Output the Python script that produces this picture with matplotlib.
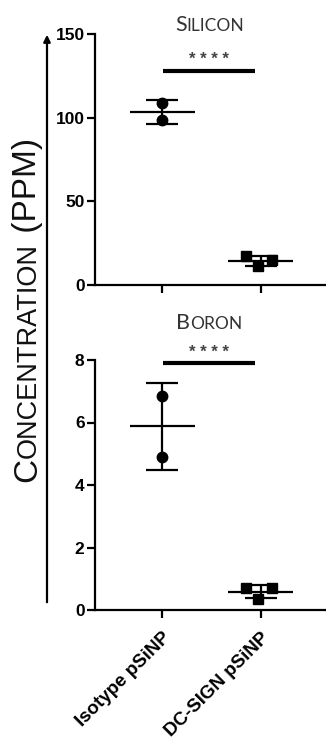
import numpy as np
import matplotlib
matplotlib.use("Agg")
import matplotlib.pyplot as plt
from matplotlib.font_manager import FontProperties
from matplotlib.patches import FancyArrowPatch
from matplotlib.transforms import ScaledTranslation

# dados
groups = ["Isotype pSiNP", "DC-SIGN pSiNP"]
silicon_isotype = [108.5, 98.5]
silicon_dcsign = [17.3, 11.2, 14.8]
boron_isotype = [6.86, 4.90]
boron_dcsign = [0.72, 0.35, 0.70]
silicon_ticks = [0, 50, 100, 150]
boron_ticks = [0, 2, 4, 6, 8]
stars = "* * * *"

JITTER = [-0.15, -0.03, 0.11]
LW = 1.6

fig = plt.figure(figsize=(3.26, 7.43), dpi=100)
ax1 = fig.add_axes([95 / 326, 458 / 743, 231 / 326, 251 / 743])
ax2 = fig.add_axes([95 / 326, 133 / 743, 231 / 326, 250 / 743])
renderer = fig.canvas.get_renderer()

tick_font = dict(family="Liberation Sans", weight="bold", size=12.5)


def small_caps(pieces, x, y, transform, rotation=0, family="Lato", color="#333333"):
    # pieces: lista de (texto, tamanho); centraliza o conjunto em (x, y)
    widths = []
    for s, size in pieces:
        fp = FontProperties(family=family, size=size)
        w, h, d = renderer.get_text_width_height_descent(s, fp, ismath=False)
        widths.append(w / fig.dpi)
    total = sum(widths)
    pos = -total / 2
    for (s, size), w in zip(pieces, widths):
        if rotation == 0:
            off = ScaledTranslation(pos, 0, fig.dpi_scale_trans)
        else:
            off = ScaledTranslation(0, pos, fig.dpi_scale_trans)
        fig.text(x, y, s, transform=transform + off, family=family, size=size,
                 color=color, ha="left", va="baseline",
                 rotation=rotation, rotation_mode="anchor")
        pos += w


def panel(ax, iso, dc, ticks, ymax, sig_y, star_y, title_y, title):
    iso = np.array(iso)
    dc = np.array(dc)
    ax.plot(np.zeros(len(iso)), iso, "o", color="black", ms=7.5, zorder=3)
    ax.plot(1 + np.array(JITTER[:len(dc)]), dc, "s", color="black", ms=7, zorder=3)
    for x, v in [(0, iso), (1, dc)]:
        m = v.mean()
        sd = v.std(ddof=1)
        ax.hlines(m, x - 0.33, x + 0.33, color="black", lw=LW, zorder=4)
        ax.errorbar(x, m, yerr=sd, fmt="none", ecolor="black", elinewidth=LW,
                    capsize=11.5, capthick=LW, zorder=4)
    ax.plot([0.01, 0.94], [sig_y, sig_y], color="black", lw=3, clip_on=False,
            solid_capstyle="butt")
    ax.text(0.47, star_y, stars, ha="center", va="center", color="#444444",
            family="Liberation Sans", weight="bold", size=12, clip_on=False)
    small_caps(title, 0.48, title_y, ax.transData)

    ax.set_xlim(-0.68, 1.66)
    ax.set_ylim(0, ymax)
    ax.set_yticks(ticks)
    ax.set_xticks([0, 1])
    for s in ["top", "right"]:
        ax.spines[s].set_visible(False)
    for s in ["left", "bottom"]:
        ax.spines[s].set_linewidth(LW)
    ax.tick_params(width=LW, length=6, pad=1.5)
    for lab in ax.get_yticklabels():
        lab.set_fontproperties(FontProperties(**tick_font))


panel(ax1, silicon_isotype, silicon_dcsign, silicon_ticks, 150, 128, 135, 152,
      [("S", 15.5), ("ILICON", 12.5)])
panel(ax2, boron_isotype, boron_dcsign, boron_ticks, 8, 7.9, 8.24, 9.0,
      [("B", 15.5), ("ORON", 12.5)])

ax1.set_xticklabels([])
ax2.set_xticklabels(groups, rotation=45, ha="right", rotation_mode="anchor")
ax2.tick_params(axis="x", pad=8)
for lab in ax2.get_xticklabels():
    lab.set_fontproperties(FontProperties(family="Liberation Sans", weight="bold", size=13.5))

# eixo comum com seta
arrow = FancyArrowPatch((47 / 326, 138 / 743), (47 / 326, 711 / 743),
                        transform=fig.transFigure, arrowstyle="-|>",
                        mutation_scale=10, lw=LW, color="black")
fig.add_artist(arrow)

small_caps([("C", 24), ("ONCENTRATION", 19.5), (" (PPM)", 24)],
           36 / 326, 433 / 743, fig.transFigure, rotation=90,
           family="Liberation Sans", color="#111111")

fig.savefig("out.png", dpi=100)
